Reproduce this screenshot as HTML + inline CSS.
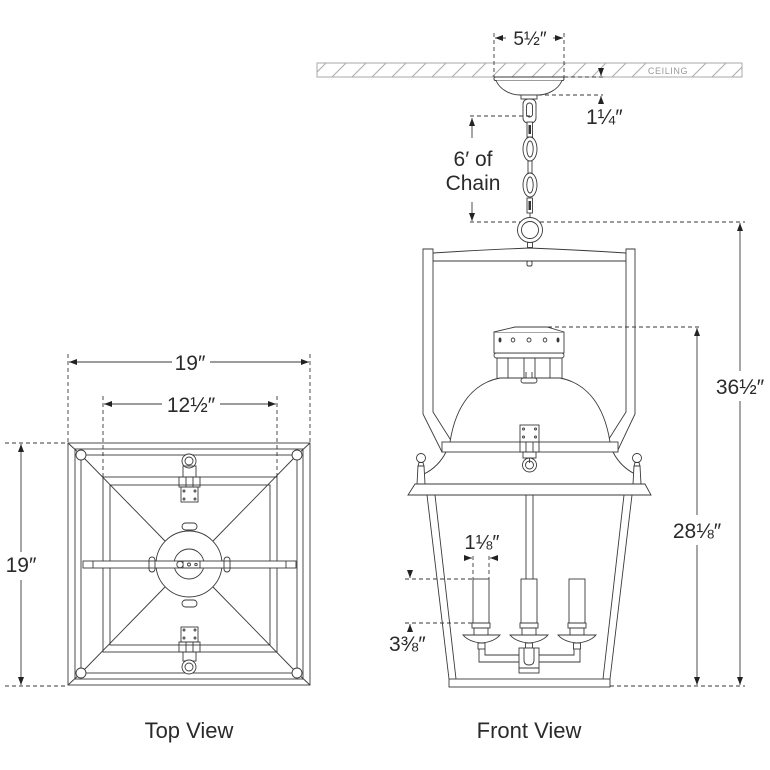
<!DOCTYPE html>
<html><head><meta charset="utf-8"><style>
html,body{margin:0;padding:0;background:#fff;}
svg{display:block;}
text{font-family:"Liberation Sans","DejaVu Sans",sans-serif;fill:#2a2a2a;}
</style></head><body>
<svg width="770" height="770" viewBox="0 0 770 770" xmlns="http://www.w3.org/2000/svg">
<defs>
<marker id="ar" viewBox="0 0 8 6" refX="8" refY="3" markerWidth="8" markerHeight="6" markerUnits="userSpaceOnUse" orient="auto-start-reverse">
<path d="M0,0 L8,3 L0,6 z" fill="#222"/>
</marker>
<clipPath id="ceil"><rect x="317" y="63" width="425" height="14"/></clipPath>
</defs>

<!-- ================= TOP VIEW ================= -->
<g stroke="#3a3a3a" stroke-width="0.9" fill="none">
<line x1="68" y1="354" x2="68" y2="443" stroke-dasharray="4 3"/>
<line x1="310" y1="354" x2="310" y2="443" stroke-dasharray="4 3"/>
<line x1="172" y1="362" x2="69" y2="362" marker-end="url(#ar)"/>
<line x1="210" y1="362" x2="309" y2="362" marker-end="url(#ar)"/>
<line x1="103" y1="396" x2="103" y2="477" stroke-dasharray="4 3"/>
<line x1="277" y1="396" x2="277" y2="477" stroke-dasharray="4 3"/>
<line x1="162" y1="404" x2="104" y2="404" marker-end="url(#ar)"/>
<line x1="220" y1="404" x2="276" y2="404" marker-end="url(#ar)"/>
<line x1="5" y1="443" x2="68" y2="443" stroke-dasharray="4 3"/>
<line x1="5" y1="686" x2="68" y2="686" stroke-dasharray="4 3"/>
<line x1="21" y1="552" x2="21" y2="444" marker-end="url(#ar)"/>
<line x1="21" y1="580" x2="21" y2="685" marker-end="url(#ar)"/>

<rect x="68" y="443" width="242" height="242"/>
<rect x="75" y="449" width="228" height="230"/>
<rect x="81" y="455" width="216" height="218"/>
<line x1="68" y1="443" x2="81" y2="455"/>
<line x1="310" y1="443" x2="297" y2="455"/>
<line x1="68" y1="685" x2="81" y2="673"/>
<line x1="310" y1="685" x2="297" y2="673"/>
<rect x="103" y="477" width="174" height="175"/>
<rect x="110" y="485" width="160" height="160"/>
<line x1="84" y1="458" x2="165" y2="541"/>
<line x1="294" y1="458" x2="213" y2="541"/>
<line x1="84" y1="670" x2="165" y2="587"/>
<line x1="294" y1="670" x2="213" y2="587"/>
<circle cx="81" cy="455" r="5" fill="#fff"/>
<circle cx="297" cy="455" r="5" fill="#fff"/>
<circle cx="81" cy="673" r="5" fill="#fff"/>
<circle cx="297" cy="673" r="5" fill="#fff"/>
<circle cx="189" cy="564" r="33" fill="#fff"/>
<circle cx="189" cy="564" r="15"/>
<rect x="83" y="561" width="213" height="7" fill="#fff"/>
<line x1="93" y1="561" x2="93" y2="568"/>
<line x1="286" y1="561" x2="286" y2="568"/>
<rect x="183" y="561" width="17" height="7"/>
<circle cx="180" cy="564.5" r="3.2" fill="#fff"/>
<circle cx="189" cy="564.5" r="1.5"/>
<circle cx="196" cy="564.5" r="1.2"/>
<rect x="182" y="523" width="15" height="7" rx="3.5"/>
<rect x="182" y="600" width="15" height="7" rx="3.5"/>
<rect x="149" y="557" width="6" height="15" rx="3"/>
<rect x="224" y="557" width="6" height="15" rx="3"/>
<circle cx="189" cy="461" r="7" fill="#fff"/>
<circle cx="189" cy="461" r="4"/>
<rect x="183" y="466" width="13" height="11"/>
<rect x="179" y="477" width="21" height="10"/>
<line x1="186" y1="477" x2="186" y2="487"/><line x1="193" y1="477" x2="193" y2="487"/>
<rect x="181" y="487" width="17" height="15"/>
<circle cx="184" cy="491" r="1"/><circle cx="195" cy="491" r="1"/>
<circle cx="184" cy="499" r="1"/><circle cx="195" cy="499" r="1"/>
<rect x="181" y="627" width="17" height="15"/>
<circle cx="184" cy="630" r="1"/><circle cx="195" cy="630" r="1"/>
<circle cx="184" cy="638" r="1"/><circle cx="195" cy="638" r="1"/>
<rect x="179" y="642" width="21" height="10"/>
<line x1="186" y1="642" x2="186" y2="652"/><line x1="193" y1="642" x2="193" y2="652"/>
<rect x="183" y="652" width="13" height="9"/>
<circle cx="189" cy="667" r="7" fill="#fff"/>
<circle cx="189" cy="667" r="4"/>
</g>
<text x="190" y="370" font-size="21" text-anchor="middle">19″</text>
<text x="191" y="412" font-size="21" text-anchor="middle">12½″</text>
<text x="21" y="572" font-size="21" text-anchor="middle">19″</text>
<text x="189" y="738" font-size="22" text-anchor="middle">Top View</text>

<!-- ================= FRONT VIEW ================= -->
<g stroke="#aaa" stroke-width="1" fill="none">
<rect x="317" y="63" width="425" height="14"/>
<g clip-path="url(#ceil)">
<path d="M312,77 L326,63 M332,77 L346,63 M352,77 L366,63 M372,77 L386,63 M392,77 L406,63 M412,77 L426,63 M432,77 L446,63 M452,77 L466,63 M472,77 L486,63 M492,77 L506,63 M512,77 L526,63 M532,77 L546,63 M552,77 L566,63 M572,77 L586,63 M592,77 L606,63 M612,77 L626,63 M632,77 L646,63 M692,77 L706,63 M712,77 L726,63 M732,77 L746,63"/>
</g>
</g>
<text x="668" y="74" font-size="9" text-anchor="middle" style="fill:#999;letter-spacing:0.6px">CEILING</text>

<g stroke="#3a3a3a" stroke-width="0.9" fill="none">
<line x1="494" y1="33" x2="494" y2="77" stroke-dasharray="4 3"/>
<line x1="564" y1="33" x2="564" y2="77" stroke-dasharray="4 3"/>
<line x1="506" y1="38" x2="495" y2="38" marker-end="url(#ar)"/>
<line x1="553" y1="38" x2="563" y2="38" marker-end="url(#ar)"/>
<rect x="494" y="77" width="70" height="3.5" rx="1.5" fill="#fff"/>
<path d="M496,80.5 C500,90 511,95 520,95 L538,95 C547,95 558,90 562,80.5" fill="#fff"/>
<rect x="521" y="95" width="16" height="4" fill="#fff"/>
<rect x="523" y="99" width="13" height="24" rx="5" fill="#fff"/>
<rect x="526.5" y="103" width="6" height="14" rx="3"/>
<line x1="564" y1="77" x2="603" y2="77" stroke-dasharray="4 3"/>
<line x1="538" y1="95" x2="603" y2="95" stroke-dasharray="4 3"/>
<line x1="601" y1="69" x2="601" y2="76" marker-end="url(#ar)"/>
<line x1="601" y1="103" x2="601" y2="96" marker-end="url(#ar)"/>
<line x1="470" y1="116" x2="531" y2="116" stroke-dasharray="4 3"/>
<line x1="472" y1="138" x2="472" y2="118" marker-end="url(#ar)"/>
<line x1="472" y1="202" x2="472" y2="221" marker-end="url(#ar)"/>
<line x1="470" y1="222" x2="745" y2="222" stroke-dasharray="4 3"/>
<rect x="527" y="122" width="5.5" height="15" fill="#fff"/>
<rect x="528.5" y="125" width="2.5" height="9" fill="#333" stroke="none"/>
<ellipse cx="530" cy="149" rx="7" ry="12" fill="#fff"/>
<ellipse cx="530" cy="149" rx="3.2" ry="8"/>
<rect x="528" y="161" width="4" height="12" fill="#fff"/>
<ellipse cx="530" cy="185" rx="7" ry="12" fill="#fff"/>
<ellipse cx="530" cy="185" rx="3.2" ry="8"/>
<rect x="527" y="198" width="5.5" height="15" fill="#fff"/>
<rect x="528.5" y="201" width="2.5" height="9" fill="#333" stroke="none"/>
<line x1="530" y1="213" x2="530" y2="218"/>
<circle cx="530" cy="230" r="12.5" fill="#fff"/>
<circle cx="530" cy="230" r="8.5"/>
<rect x="527.5" y="242.5" width="5" height="5" fill="#fff"/>
<path d="M433,253 Q480,250 529,248 Q580,250 626,253 L626,261 L433,261 Z" fill="#fff"/>
<rect x="527" y="261" width="5" height="5" rx="1.5"/>
<path d="M423,249 L433,249 L433,412 L452,442 L442,452 L423,414 Z" fill="#fff"/>
<path d="M635,249 L626,249 L626,412 L607,442 L617,452 L635,414 Z" fill="#fff"/>
<path d="M450,442 C456,404 474,383 500,378 L560,378 C586,383 604,404 610,442" fill="#fff"/>
<path d="M497,358 L497,378 M508,358 L508,378 M524,358 L524,378 M535,358 L535,378 M550,358 L550,378 M562,358 L562,378"/>
<rect x="494" y="353" width="70" height="5" rx="2.5" fill="#fff"/>
<rect x="494" y="332" width="70" height="21" fill="#fff"/>
<path d="M494,332 L515,327 L547,327 L564,332" fill="#fff"/>
<ellipse cx="500" cy="340" rx="1" ry="2" fill="#333"/>
<ellipse cx="513" cy="340" rx="1.8" ry="2"/>
<ellipse cx="529" cy="340" rx="2" ry="2"/>
<ellipse cx="545" cy="340" rx="1.8" ry="2"/>
<ellipse cx="558" cy="340" rx="1" ry="2" fill="#333"/>
<rect x="521" y="378" width="16" height="5" rx="2.5"/>
<line x1="526" y1="372" x2="526" y2="378"/><line x1="532" y1="372" x2="532" y2="378"/>
<rect x="442" y="442" width="176" height="10" fill="#fff"/>
<rect x="520" y="425" width="19" height="17" fill="#fff"/>
<circle cx="523.5" cy="429" r="1"/><circle cx="535.5" cy="429" r="1"/>
<circle cx="523.5" cy="437" r="1"/><circle cx="535.5" cy="437" r="1"/>
<rect x="520" y="442" width="19" height="10" fill="#fff"/>
<line x1="526" y1="442" x2="526" y2="452"/><line x1="533" y1="442" x2="533" y2="452"/>
<rect x="523" y="452" width="13" height="6"/>
<circle cx="529.5" cy="465" r="7" fill="#fff"/>
<circle cx="529.5" cy="465" r="4"/>
<line x1="529.5" y1="458" x2="529.5" y2="463"/>
<path d="M446,452 C440,464 432,470 424,474"/>
<path d="M613,452 C619,464 627,470 635,474"/>
<circle cx="421" cy="458" r="4.5" fill="#fff"/>
<path d="M419,462.5 L423,462.5 L424,466 L418,466 Z"/>
<path d="M418,466 L424,466 L425,484 L417,484 Z" fill="#fff"/>
<circle cx="637" cy="458" r="4.5" fill="#fff"/>
<path d="M635,462.5 L639,462.5 L640,466 L634,466 Z"/>
<path d="M634,466 L640,466 L641,484 L633,484 Z" fill="#fff"/>
<path d="M415,484 L645,484 L651,495 L408,495 Z" fill="#fff"/>
<line x1="427" y1="495" x2="449" y2="679"/>
<line x1="435" y1="495" x2="456" y2="679"/>
<line x1="632" y1="495" x2="610" y2="679"/>
<line x1="624" y1="495" x2="603" y2="679"/>
<rect x="449" y="679" width="161" height="8" fill="#fff"/>
<line x1="526" y1="495" x2="526" y2="579"/>
<line x1="533" y1="495" x2="533" y2="579"/>
<rect x="473" y="579" width="16" height="44"/>
<rect x="472" y="623" width="18" height="5"/>
<rect x="474" y="628" width="14" height="7"/>
<path d="M463,635 L500,635 Q494,642 481.5,643 Q469,642 463,635 Z"/>
<rect x="478" y="643" width="7" height="6"/>
<rect x="521" y="579" width="16" height="44"/>
<rect x="520" y="623" width="18" height="5"/>
<rect x="522" y="628" width="14" height="7"/>
<path d="M510,635 L548,635 Q542,642 529,643 Q516,642 510,635 Z"/>
<rect x="525.5" y="643" width="7" height="5"/>
<rect x="569" y="579" width="16" height="44"/>
<rect x="568" y="623" width="18" height="5"/>
<rect x="570" y="628" width="14" height="7"/>
<path d="M558,635 L596,635 Q590,642 577,643 Q564,642 558,635 Z"/>
<rect x="573.5" y="643" width="7" height="6"/>
<path d="M479,649 L479,662 L519,662 M485,649 L485,655 L519,655"/>
<path d="M580,649 L580,662 L539,662 M574,649 L574,655 L539,655"/>
<rect x="519" y="648" width="20" height="25" fill="#fff"/>
<path d="M524,648 L524,660 Q524,665 529,665 Q534,665 534,660 L534,648"/>
<line x1="519" y1="668" x2="539" y2="668"/>
<line x1="473" y1="556" x2="473" y2="579" stroke-dasharray="4 3"/>
<line x1="489" y1="556" x2="489" y2="579" stroke-dasharray="4 3"/>
<line x1="465" y1="558" x2="472" y2="558" marker-end="url(#ar)"/>
<line x1="497" y1="558" x2="490" y2="558" marker-end="url(#ar)"/>
<line x1="405" y1="579" x2="473" y2="579" stroke-dasharray="4 3"/>
<line x1="405" y1="623" x2="473" y2="623" stroke-dasharray="4 3"/>
<line x1="410" y1="572" x2="410" y2="578" marker-end="url(#ar)"/>
<line x1="410" y1="630" x2="410" y2="624" marker-end="url(#ar)"/>
<line x1="548" y1="327" x2="702" y2="327" stroke-dasharray="4 3"/>
<line x1="610" y1="686" x2="745" y2="686" stroke-dasharray="4 3"/>
<line x1="740" y1="371" x2="740" y2="223" marker-end="url(#ar)"/>
<line x1="740" y1="401" x2="740" y2="685" marker-end="url(#ar)"/>
<line x1="697" y1="515" x2="697" y2="328" marker-end="url(#ar)"/>
<line x1="697" y1="545" x2="697" y2="685" marker-end="url(#ar)"/>
</g>
<text x="530" y="45" font-size="19" text-anchor="middle">5½″</text>
<text x="586" y="124" font-size="21">1¼″</text>
<text x="473" y="166" font-size="21" text-anchor="middle">6′ of</text>
<text x="473" y="190" font-size="21" text-anchor="middle">Chain</text>
<text x="482" y="549" font-size="20" text-anchor="middle">1⅛″</text>
<text x="389" y="651" font-size="21">3⅜″</text>
<text x="740" y="394" font-size="21" text-anchor="middle">36½″</text>
<text x="697" y="538" font-size="21" text-anchor="middle">28⅛″</text>
<text x="529" y="738" font-size="22" text-anchor="middle">Front View</text>
</svg>
</body></html>
